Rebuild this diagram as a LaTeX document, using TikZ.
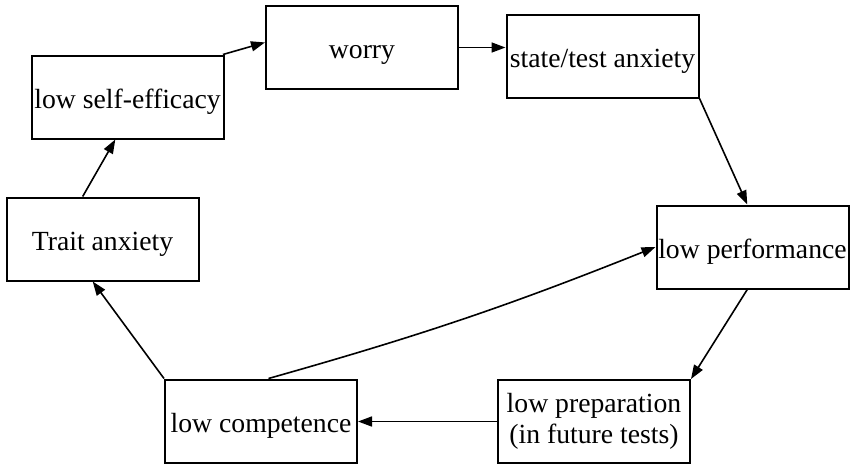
\documentclass[tikz,border=0pt]{standalone}
\usepackage{fontspec}
\setmainfont{Liberation Serif}
\usepackage{tikz}
\usetikzlibrary{arrows.meta}

\begin{document}
\begin{tikzpicture}[x=1pt,y=-1pt,->,>={Triangle[length=14pt,width=10pt]},
                    line width=1.6pt]
  \tikzstyle{every node}=[font=\fontsize{27.7}{31}\selectfont]
  \tikzstyle{factor}=[rectangle,draw=black,fill=white,line width=2pt,
                      minimum width=192pt,minimum height=83pt,inner sep=1pt,align=center]
  \tikzstyle{oneline}=[factor,text height=26pt,text depth=4pt]

  \useasboundingbox (0,0) rectangle (855,464);

  \node[oneline] (eff)   at (127.5,97)  {low self-efficacy};
  \node[oneline] (worry) at (362,47.5)  {worry};
  \node[oneline] (state) at (602.5,56)  {state/test anxiety};
  \node[oneline] (perf)  at (752.5,247) {low performance};
  \node[factor]  (prep)  at (594,421.5) {low preparation\\(in future tests)};
  \node[oneline] (comp)  at (261,421)   {low competence};
  \node[oneline] (trait) at (102.5,239) {Trait anxiety};

  \path (trait.115) edge (eff.254)
        (eff.24) edge (worry.177)
        (worry.east) edge (worry.east -| state.west)
        (state.south east) edge (perf.97)
        (perf.263) edge (prep.north east)
        (prep.west) edge (prep.west -| comp.east)
        (comp.north west) edge (trait.257)
        (comp.80) edge [bend right=3] (perf.west);
\end{tikzpicture}
\end{document}
